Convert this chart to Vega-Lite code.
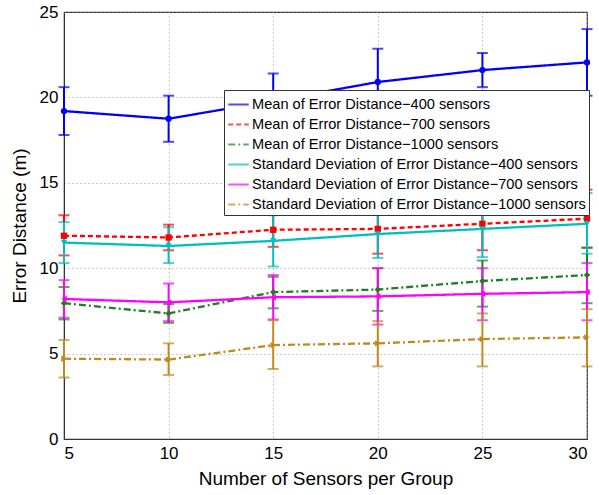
{
  "$schema": "https://vega.github.io/schema/vega-lite/v6.json",
  "width": 523,
  "height": 427,
  "autosize": {"type": "none"},
  "padding": {"left": 64, "top": 12, "right": 12, "bottom": 56},
  "background": "white",
  "config": {
    "view": {"stroke": "#333", "strokeWidth": 1.2},
    "font": "Liberation Sans",
    "axis": {
      "labelFont": "Liberation Sans",
      "titleFont": "Liberation Sans",
      "labelFontSize": 17,
      "titleFontSize": 19,
      "titleFontWeight": "normal",
      "labelColor": "#000",
      "titleColor": "#000",
      "domainColor": "#333",
      "gridColor": "#999",
      "gridDash": [1, 3],
      "gridWidth": 1,
      "ticks": false
    },
    "point": {"filled": true, "size": 40, "opacity": 1}
  },
  "data": {
    "values": [
      {"s": "Mean of Error Distance−400 sensors", "x": 5, "y": 19.2, "lo": 17.8, "hi": 20.6},
      {"s": "Mean of Error Distance−400 sensors", "x": 10, "y": 18.75, "lo": 17.4, "hi": 20.1},
      {"s": "Mean of Error Distance−400 sensors", "x": 15, "y": 19.8, "lo": 18.2, "hi": 21.4},
      {"s": "Mean of Error Distance−400 sensors", "x": 20, "y": 20.9, "lo": 18.95, "hi": 22.85},
      {"s": "Mean of Error Distance−400 sensors", "x": 25, "y": 21.6, "lo": 20.6, "hi": 22.6},
      {"s": "Mean of Error Distance−400 sensors", "x": 30, "y": 22.05, "lo": 20.1, "hi": 24.0},
      {"s": "Mean of Error Distance−700 sensors", "x": 5, "y": 11.9, "lo": 10.75, "hi": 13.1},
      {"s": "Mean of Error Distance−700 sensors", "x": 10, "y": 11.8, "lo": 11.05, "hi": 12.55},
      {"s": "Mean of Error Distance−700 sensors", "x": 15, "y": 12.25, "lo": 11.25, "hi": 13.3},
      {"s": "Mean of Error Distance−700 sensors", "x": 20, "y": 12.3, "lo": 10.85, "hi": 13.75},
      {"s": "Mean of Error Distance−700 sensors", "x": 25, "y": 12.6, "lo": 11.05, "hi": 14.15},
      {"s": "Mean of Error Distance−700 sensors", "x": 30, "y": 12.9, "lo": 11.2, "hi": 14.6},
      {"s": "Mean of Error Distance−1000 sensors", "x": 5, "y": 7.95, "lo": 7.0, "hi": 8.9},
      {"s": "Mean of Error Distance−1000 sensors", "x": 10, "y": 7.35, "lo": 6.8, "hi": 7.9},
      {"s": "Mean of Error Distance−1000 sensors", "x": 15, "y": 8.6, "lo": 7.65, "hi": 9.5},
      {"s": "Mean of Error Distance−1000 sensors", "x": 20, "y": 8.75, "lo": 7.5, "hi": 10.0},
      {"s": "Mean of Error Distance−1000 sensors", "x": 25, "y": 9.25, "lo": 7.75, "hi": 10.45},
      {"s": "Mean of Error Distance−1000 sensors", "x": 30, "y": 9.6, "lo": 7.95, "hi": 11.2},
      {"s": "Standard Deviation of Error Distance−400 sensors", "x": 5, "y": 11.5, "lo": 10.3, "hi": 12.7},
      {"s": "Standard Deviation of Error Distance−400 sensors", "x": 10, "y": 11.3, "lo": 10.3, "hi": 12.4},
      {"s": "Standard Deviation of Error Distance−400 sensors", "x": 15, "y": 11.6, "lo": 10.1, "hi": 13.1},
      {"s": "Standard Deviation of Error Distance−400 sensors", "x": 20, "y": 12.0, "lo": 10.6, "hi": 13.4},
      {"s": "Standard Deviation of Error Distance−400 sensors", "x": 25, "y": 12.3, "lo": 10.65, "hi": 13.95},
      {"s": "Standard Deviation of Error Distance−400 sensors", "x": 30, "y": 12.6, "lo": 10.85, "hi": 14.4},
      {"s": "Standard Deviation of Error Distance−700 sensors", "x": 5, "y": 8.2, "lo": 7.1, "hi": 9.3},
      {"s": "Standard Deviation of Error Distance−700 sensors", "x": 10, "y": 8.0, "lo": 6.9, "hi": 9.1},
      {"s": "Standard Deviation of Error Distance−700 sensors", "x": 15, "y": 8.3, "lo": 7.0, "hi": 9.6},
      {"s": "Standard Deviation of Error Distance−700 sensors", "x": 20, "y": 8.35, "lo": 6.7, "hi": 10.0},
      {"s": "Standard Deviation of Error Distance−700 sensors", "x": 25, "y": 8.5, "lo": 6.95, "hi": 10.0},
      {"s": "Standard Deviation of Error Distance−700 sensors", "x": 30, "y": 8.6, "lo": 6.95, "hi": 10.3},
      {"s": "Standard Deviation of Error Distance−1000 sensors", "x": 5, "y": 4.7, "lo": 3.6, "hi": 5.8},
      {"s": "Standard Deviation of Error Distance−1000 sensors", "x": 10, "y": 4.65, "lo": 3.75, "hi": 5.6},
      {"s": "Standard Deviation of Error Distance−1000 sensors", "x": 15, "y": 5.5, "lo": 4.1, "hi": 6.95},
      {"s": "Standard Deviation of Error Distance−1000 sensors", "x": 20, "y": 5.6, "lo": 4.25, "hi": 6.9},
      {"s": "Standard Deviation of Error Distance−1000 sensors", "x": 25, "y": 5.85, "lo": 4.25, "hi": 7.35},
      {"s": "Standard Deviation of Error Distance−1000 sensors", "x": 30, "y": 5.95, "lo": 4.25, "hi": 7.6}
    ]
  },
  "layer": [
    {
      "mark": {"type": "errorbar", "ticks": {"size": 11, "thickness": 2}, "thickness": 2},
      "encoding": {
        "x": {
          "field": "x", "type": "quantitative",
          "scale": {"domain": [5, 30], "nice": false, "zero": false},
          "axis": {"values": [5, 10, 15, 20, 25, 30], "title": "Number of Sensors per Group", "labelPadding": 6, "titlePadding": 8}
        },
        "y": {"field": "lo", "type": "quantitative", "scale": {"domain": [0, 25], "nice": false},
          "axis": {"values": [0, 5, 10, 15, 20, 25], "title": "Error Distance (m)", "labelPadding": 6, "titlePadding": 10}},
        "y2": {"field": "hi"},
        "color": {
          "field": "s", "type": "nominal",
          "scale": {
            "domain": ["Mean of Error Distance−400 sensors", "Mean of Error Distance−700 sensors", "Mean of Error Distance−1000 sensors", "Standard Deviation of Error Distance−400 sensors", "Standard Deviation of Error Distance−700 sensors", "Standard Deviation of Error Distance−1000 sensors"],
            "range": ["#0000FF", "#FF0000", "#1E7F1E", "#00BFBF", "#FF00FF", "#BF8A1C"]
          },
          "legend": {
            "title": null,
            "orient": "none",
            "legendX": 160,
            "legendY": 78,
            "direction": "vertical",
            "fillColor": "white",
            "strokeColor": "#333",
            "padding": 3,
            "rowPadding": 1,
            "labelFont": "Liberation Sans",
            "labelFontSize": 14.6,
            "labelColor": "#000",
            "labelLimit": 400,
            "labelOffset": 2,
            "symbolType": "stroke",
            "symbolSize": 420,
            "symbolStrokeWidth": 2.2
          }
        }
      }
    },
    {
      "mark": {"type": "line", "strokeWidth": 2.3},
      "encoding": {
        "x": {"field": "x", "type": "quantitative"},
        "y": {"field": "y", "type": "quantitative"},
        "color": {"field": "s", "type": "nominal"},
        "strokeDash": {
          "field": "s", "type": "nominal",
          "scale": {
            "domain": ["Mean of Error Distance−400 sensors", "Mean of Error Distance−700 sensors", "Mean of Error Distance−1000 sensors", "Standard Deviation of Error Distance−400 sensors", "Standard Deviation of Error Distance−700 sensors", "Standard Deviation of Error Distance−1000 sensors"],
            "range": [[1, 0], [5, 3], [7, 3, 2, 3], [1, 0], [1, 0], [7, 3, 2, 3]]
          },
          "legend": {
            "title": null,
            "orient": "none",
            "legendX": 160,
            "legendY": 78
          }
        }
      }
    },
    {
      "transform": [{"filter": {"field": "s", "equal": "Mean of Error Distance−400 sensors"}}],
      "mark": {"type": "point", "shape": "circle"},
      "encoding": {"x": {"field": "x", "type": "quantitative"}, "y": {"field": "y", "type": "quantitative"}, "color": {"field": "s", "type": "nominal"}}
    },
    {
      "transform": [{"filter": {"field": "s", "equal": "Mean of Error Distance−700 sensors"}}],
      "mark": {"type": "point", "shape": "square"},
      "encoding": {"x": {"field": "x", "type": "quantitative"}, "y": {"field": "y", "type": "quantitative"}, "color": {"field": "s", "type": "nominal"}}
    },
    {
      "transform": [{"filter": {"field": "s", "equal": "Mean of Error Distance−1000 sensors"}}],
      "mark": {"type": "point", "shape": "diamond"},
      "encoding": {"x": {"field": "x", "type": "quantitative"}, "y": {"field": "y", "type": "quantitative"}, "color": {"field": "s", "type": "nominal"}}
    },
    {
      "transform": [{"filter": {"field": "s", "equal": "Standard Deviation of Error Distance−400 sensors"}}],
      "mark": {"type": "point", "shape": "triangle-down"},
      "encoding": {"x": {"field": "x", "type": "quantitative"}, "y": {"field": "y", "type": "quantitative"}, "color": {"field": "s", "type": "nominal"}}
    },
    {
      "transform": [{"filter": {"field": "s", "equal": "Standard Deviation of Error Distance−700 sensors"}}],
      "mark": {"type": "point", "shape": "triangle-left"},
      "encoding": {"x": {"field": "x", "type": "quantitative"}, "y": {"field": "y", "type": "quantitative"}, "color": {"field": "s", "type": "nominal"}}
    },
    {
      "transform": [{"filter": {"field": "s", "equal": "Standard Deviation of Error Distance−1000 sensors"}}],
      "mark": {"type": "point", "shape": "triangle-right"},
      "encoding": {"x": {"field": "x", "type": "quantitative"}, "y": {"field": "y", "type": "quantitative"}, "color": {"field": "s", "type": "nominal"}}
    }
  ]
}
